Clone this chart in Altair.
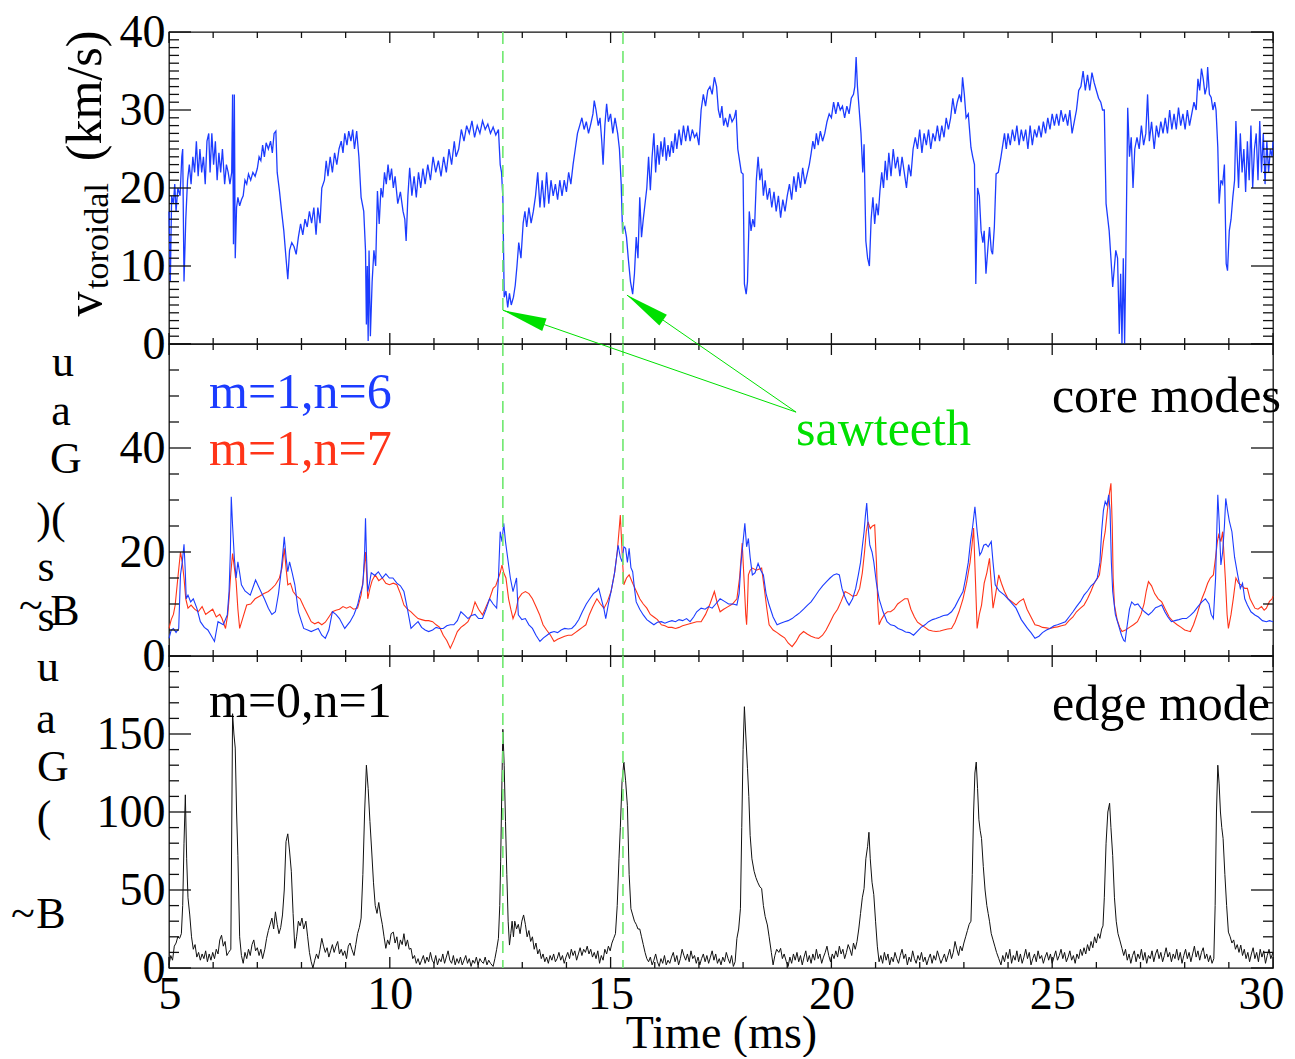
import math
import altair as alt
import pandas as pd

# ---------------- data ----------------
# top panel: toroidal velocity (km/s) vs time (ms)
V_TOROIDAL = [
    (5.00, 17), (5.03, 8), (5.06, 19), (5.10, 18), (5.13, 20.5), (5.16, 17), (5.20, 20), (5.25, 19), (5.29, 24), (5.31, 25),
    (5.34, 8), (5.38, 16), (5.42, 21), (5.46, 23), (5.50, 20.5), (5.54, 24), (5.58, 22), (5.62, 26), (5.66, 21.5), (5.70, 25),
    (5.74, 22), (5.78, 24), (5.82, 20.5), (5.86, 26), (5.90, 27), (5.93, 22), (5.97, 27), (6.01, 23), (6.05, 26), (6.09, 21),
    (6.13, 24.5), (6.17, 22), (6.21, 25), (6.26, 20.5), (6.30, 23), (6.34, 22), (6.38, 20.5), (6.42, 22), (6.44, 32), (6.46, 12.8),
    (6.48, 32), (6.50, 11), (6.53, 17.5), (6.56, 18.8), (6.60, 17.7), (6.64, 18.5), (6.68, 19), (6.72, 21), (6.76, 20.5), (6.80, 21.8),
    (6.85, 21), (6.90, 22), (6.95, 21.5), (7.00, 22.5), (7.04, 24), (7.08, 23.5), (7.12, 25.5), (7.16, 24), (7.20, 25.8), (7.25, 25),
    (7.30, 26), (7.34, 24.5), (7.38, 27), (7.42, 27.3), (7.45, 22), (7.50, 19.7), (7.55, 17), (7.60, 14.5), (7.65, 11), (7.69, 8.3),
    (7.73, 12), (7.78, 13), (7.83, 12.5), (7.88, 11.5), (7.93, 13.7), (7.98, 15.4), (8.03, 14), (8.08, 16), (8.13, 15), (8.18, 17),
    (8.23, 15.5), (8.28, 17.5), (8.33, 14), (8.37, 17.5), (8.42, 15.5), (8.46, 20), (8.52, 21), (8.56, 23.5), (8.60, 21.5), (8.65, 24),
    (8.70, 22), (8.75, 24.5), (8.80, 23), (8.85, 25), (8.90, 26), (8.94, 24.5), (8.98, 27), (9.03, 25.5), (9.07, 27.3), (9.12, 26),
    (9.16, 27.5), (9.20, 25), (9.25, 27.3), (9.30, 24), (9.35, 18.8), (9.41, 17), (9.45, 12), (9.47, 2.5), (9.49, 10), (9.51, 0.4),
    (9.53, 12), (9.56, 1), (9.60, 8), (9.64, 12), (9.68, 10), (9.72, 19.6), (9.76, 15.4), (9.80, 20), (9.84, 18.8), (9.88, 22),
    (9.92, 20.5), (9.96, 23), (10.00, 21), (10.04, 22.5), (10.08, 20), (10.12, 21.5), (10.18, 18), (10.24, 19.5), (10.30, 17), (10.34, 16),
    (10.37, 13.2), (10.41, 19), (10.45, 22.6), (10.50, 19), (10.55, 21.5), (10.60, 18.8), (10.65, 22), (10.70, 20), (10.75, 22.5), (10.80, 20.5),
    (10.86, 23), (10.92, 21), (10.98, 24), (11.04, 22), (11.10, 23.5), (11.16, 21.5), (11.22, 24), (11.28, 22), (11.34, 25), (11.40, 23),
    (11.46, 26), (11.50, 24), (11.56, 25), (11.62, 27.5), (11.68, 26), (11.74, 28), (11.80, 27), (11.86, 28.6), (11.92, 26.5), (11.98, 28),
    (12.04, 27), (12.10, 28.6), (12.16, 27.5), (12.22, 28.2), (12.28, 27), (12.34, 27.8), (12.40, 26.8), (12.46, 27.5), (12.50, 23), (12.53, 22),
    (12.56, 18.8), (12.59, 6), (12.63, 6.8), (12.67, 4.7), (12.71, 6.5), (12.75, 5), (12.80, 6), (12.84, 7.5), (12.88, 10), (12.92, 13),
    (12.97, 11), (13.02, 15.5), (13.06, 17), (13.10, 15), (13.15, 17.5), (13.20, 15.5), (13.25, 17), (13.30, 19), (13.35, 22), (13.40, 17.5),
    (13.45, 21), (13.50, 17.5), (13.55, 22), (13.60, 18), (13.65, 21), (13.70, 19), (13.75, 20.5), (13.80, 18.5), (13.85, 21), (13.90, 19),
    (13.95, 21), (14.00, 19.5), (14.05, 22), (14.10, 20.5), (14.15, 23), (14.20, 25), (14.25, 27), (14.30, 28), (14.35, 29), (14.40, 27.5),
    (14.45, 28.5), (14.50, 27), (14.55, 28.2), (14.60, 29.5), (14.63, 31.2), (14.67, 30), (14.72, 28), (14.76, 29), (14.80, 26), (14.83, 23),
    (14.87, 28), (14.91, 30.8), (14.95, 28.5), (15.00, 29.5), (15.05, 27), (15.10, 29), (15.16, 27), (15.20, 25), (15.24, 20.5), (15.27, 14.5),
    (15.32, 15), (15.36, 13.7), (15.40, 11), (15.45, 8), (15.50, 6.4), (15.54, 9), (15.58, 13.7), (15.62, 11), (15.66, 18.8), (15.70, 13.7),
    (15.74, 16), (15.78, 18), (15.82, 20), (15.86, 24), (15.90, 19.7), (15.94, 24), (15.98, 27), (16.02, 22), (16.06, 25.5), (16.10, 23),
    (16.14, 26), (16.18, 24), (16.22, 26.5), (16.26, 23.5), (16.30, 25.5), (16.34, 24), (16.38, 26), (16.42, 24.5), (16.46, 27), (16.50, 25),
    (16.55, 27.5), (16.60, 25.5), (16.65, 28), (16.70, 26), (16.75, 28), (16.80, 26), (16.85, 27.5), (16.90, 26.5), (16.95, 27), (17.00, 25.5),
    (17.05, 30), (17.10, 32), (17.15, 30.5), (17.20, 32.5), (17.25, 33), (17.30, 32), (17.35, 34.2), (17.40, 33), (17.44, 30), (17.48, 29),
    (17.52, 30.5), (17.56, 28), (17.60, 29), (17.65, 27.8), (17.70, 29.5), (17.75, 28.5), (17.80, 29), (17.84, 30), (17.88, 25), (17.92, 23.5),
    (17.96, 22), (18.00, 21.8), (18.03, 7.7), (18.07, 6.4), (18.10, 8), (18.14, 17), (18.18, 14.5), (18.22, 16), (18.26, 15), (18.30, 21),
    (18.34, 24), (18.38, 21), (18.42, 22.5), (18.46, 19), (18.50, 21), (18.55, 18.5), (18.60, 20), (18.65, 17.5), (18.70, 19.5), (18.75, 17),
    (18.80, 19), (18.85, 16.2), (18.90, 18.5), (18.95, 17), (19.00, 19), (19.05, 20.5), (19.10, 18.5), (19.15, 21.5), (19.20, 19.5), (19.25, 22),
    (19.30, 20), (19.35, 22.6), (19.40, 20.5), (19.46, 22), (19.50, 23), (19.54, 24.4), (19.58, 26), (19.62, 25), (19.66, 27), (19.70, 25.5),
    (19.75, 27.3), (19.80, 26), (19.85, 27), (19.90, 28.5), (19.95, 29.5), (20.00, 29), (20.05, 31), (20.10, 29.5), (20.15, 31), (20.20, 30),
    (20.25, 30.5), (20.30, 29), (20.35, 30.5), (20.40, 29.5), (20.45, 31.5), (20.50, 32), (20.53, 33), (20.56, 36.8), (20.59, 33), (20.63, 30),
    (20.67, 27), (20.71, 22), (20.74, 25.6), (20.78, 13.2), (20.82, 11), (20.86, 10), (20.90, 16), (20.94, 18.8), (20.98, 15.4), (21.02, 18),
    (21.06, 16.5), (21.10, 19.7), (21.14, 22), (21.18, 20), (21.22, 23.5), (21.26, 21), (21.30, 24.5), (21.35, 21.5), (21.40, 25), (21.45, 22.5),
    (21.50, 24), (21.55, 21.5), (21.60, 24), (21.65, 22), (21.70, 20), (21.75, 23), (21.80, 21.5), (21.85, 25), (21.90, 26.5), (21.95, 25),
    (22.00, 27.5), (22.05, 24.5), (22.10, 27), (22.15, 25.5), (22.20, 27.5), (22.25, 25), (22.30, 27), (22.35, 26), (22.40, 28), (22.45, 26),
    (22.50, 28), (22.55, 26.5), (22.60, 29), (22.65, 27.5), (22.70, 29), (22.75, 31.5), (22.80, 29.5), (22.85, 31), (22.90, 32), (22.94, 31),
    (22.97, 34.2), (23.01, 32), (23.05, 29), (23.10, 29.5), (23.16, 25.2), (23.20, 24), (23.24, 23), (23.27, 7.7), (23.31, 20), (23.35, 19),
    (23.39, 14.5), (23.43, 13), (23.46, 14.5), (23.50, 9), (23.54, 12), (23.58, 15), (23.62, 12), (23.65, 11.5), (23.69, 15), (23.73, 21.8),
    (23.78, 22), (23.84, 24), (23.88, 25.5), (23.92, 27), (23.96, 25), (24.00, 27), (24.05, 25.5), (24.10, 27.5), (24.15, 26), (24.20, 28),
    (24.25, 25.5), (24.30, 27.5), (24.35, 26), (24.40, 27.5), (24.45, 25), (24.50, 28), (24.55, 25.5), (24.60, 27.5), (24.65, 26.5), (24.70, 28),
    (24.75, 26.5), (24.80, 28.5), (24.85, 27), (24.90, 29), (24.95, 27.5), (25.00, 29.5), (25.05, 28), (25.10, 29.5), (25.15, 28), (25.20, 30),
    (25.25, 28.5), (25.30, 29.5), (25.35, 28), (25.40, 30), (25.45, 27), (25.50, 28.5), (25.55, 30), (25.60, 32.5), (25.65, 33), (25.70, 35),
    (25.75, 32.5), (25.80, 34.5), (25.85, 32.5), (25.90, 34.8), (25.95, 33.5), (26.00, 32.5), (26.05, 31.5), (26.10, 31), (26.14, 30), (26.18, 30),
    (26.22, 18), (26.26, 16), (26.29, 14.5), (26.33, 11), (26.37, 7.3), (26.41, 10), (26.44, 12), (26.48, 11), (26.52, 1.3), (26.55, 9),
    (26.58, 0), (26.61, 11), (26.64, 0), (26.67, 12), (26.71, 30.3), (26.75, 24), (26.79, 26.5), (26.83, 20), (26.87, 25), (26.92, 26.5),
    (26.97, 25), (27.02, 28), (27.07, 25.5), (27.12, 27), (27.16, 32), (27.20, 26), (27.25, 28.5), (27.31, 25), (27.36, 28), (27.41, 26.5),
    (27.46, 28.5), (27.51, 27), (27.56, 29), (27.61, 27), (27.66, 30), (27.71, 27.5), (27.76, 29.5), (27.81, 27.5), (27.86, 30.3), (27.91, 28),
    (27.96, 29.5), (28.01, 27.5), (28.06, 30), (28.11, 28), (28.16, 29.5), (28.21, 31), (28.26, 30), (28.30, 34), (28.34, 32.5), (28.38, 35.3),
    (28.42, 34), (28.46, 32), (28.50, 33), (28.52, 35.5), (28.56, 32), (28.60, 31.6), (28.64, 30), (28.68, 31), (28.71, 30), (28.75, 25.2),
    (28.78, 18), (28.82, 21), (28.86, 20.5), (28.90, 23), (28.94, 10.3), (28.97, 9.4), (29.01, 14.5), (29.05, 16), (29.09, 18.8), (29.13, 21),
    (29.16, 28.6), (29.19, 24), (29.22, 20), (29.26, 27), (29.30, 22), (29.34, 25), (29.38, 19.5), (29.42, 26), (29.46, 21), (29.50, 28),
    (29.54, 20), (29.58, 25), (29.62, 27), (29.66, 21), (29.70, 28.6), (29.74, 22), (29.78, 27), (29.82, 20.5), (29.86, 26), (29.90, 22),
    (29.94, 25), (29.98, 24), (30.00, 26),
]

# middle panel: core mode m=1,n=6 (Gauss)
CORE_N6 = [
    (5.00, 3.4), (5.05, 5), (5.10, 5.3), (5.16, 4.5), (5.22, 5.3), (5.26, 15.6), (5.30, 18), (5.34, 21.5), (5.37, 16), (5.39, 11),
    (5.43, 11.7), (5.49, 10.4), (5.55, 11), (5.63, 9.2), (5.71, 6.6), (5.80, 5.5), (5.88, 5), (5.95, 4), (6.03, 2.8), (6.11, 6.6),
    (6.23, 6), (6.32, 7.9), (6.36, 12.4), (6.39, 20), (6.41, 30.6), (6.44, 25), (6.48, 18.8), (6.52, 15), (6.56, 18.1), (6.60, 16),
    (6.64, 13.7), (6.72, 12.5), (6.84, 11.7), (6.96, 14.6), (7.08, 12.4), (7.16, 11), (7.25, 9.2), (7.33, 8), (7.41, 8.5), (7.48, 12),
    (7.53, 15.6), (7.58, 20), (7.61, 22.9), (7.65, 19), (7.69, 16.2), (7.73, 18.1), (7.79, 16), (7.85, 13.7), (7.93, 8.5), (8.05, 5.3),
    (8.14, 5), (8.22, 4.7), (8.30, 5), (8.38, 5.3), (8.46, 4), (8.54, 3.4), (8.62, 5), (8.70, 8.5), (8.78, 8), (8.86, 7.2),
    (8.98, 5.3), (9.10, 6.6), (9.19, 8), (9.27, 9.8), (9.33, 12), (9.39, 13.7), (9.43, 20), (9.45, 26.5), (9.47, 20), (9.50, 12.4),
    (9.54, 14), (9.58, 16), (9.66, 15.5), (9.74, 16.2), (9.83, 15), (9.91, 15.8), (9.99, 15), (10.07, 15), (10.16, 14), (10.24, 13.5),
    (10.32, 12.4), (10.40, 9), (10.48, 5.3), (10.56, 6), (10.64, 6.6), (10.72, 5.5), (10.80, 5), (10.88, 4.7), (10.97, 5), (11.05, 5.5),
    (11.13, 5.3), (11.21, 5.3), (11.29, 5.8), (11.37, 6), (11.45, 6), (11.53, 6.8), (11.61, 8.5), (11.70, 7.8), (11.77, 7.2), (11.85, 7.8),
    (11.93, 8), (12.01, 7.2), (12.10, 7.2), (12.18, 9), (12.26, 11), (12.34, 10), (12.42, 9.2), (12.46, 15), (12.50, 23.9), (12.54, 22),
    (12.58, 25.5), (12.62, 22), (12.67, 18.8), (12.73, 15), (12.79, 12.4), (12.84, 14), (12.87, 15), (12.91, 7.9), (12.99, 7), (13.07, 7.2),
    (13.15, 6), (13.23, 5.3), (13.31, 4), (13.40, 2.8), (13.48, 3.5), (13.56, 4), (13.64, 4.5), (13.72, 4.7), (13.80, 4.5), (13.88, 5),
    (13.96, 5.3), (14.04, 5.2), (14.12, 5.3), (14.20, 6), (14.28, 7), (14.36, 8.5), (14.45, 10), (14.53, 11), (14.61, 12), (14.69, 12.5),
    (14.73, 13), (14.79, 11), (14.85, 9), (14.89, 7.2), (14.95, 10), (15.01, 12.4), (15.09, 16), (15.17, 21.3), (15.22, 19), (15.26, 18.1),
    (15.30, 21), (15.34, 20.7), (15.38, 18), (15.42, 20.7), (15.46, 17), (15.50, 16.2), (15.54, 13), (15.58, 10.4), (15.66, 9), (15.74, 7.9),
    (15.82, 7), (15.90, 6.5), (15.98, 6), (16.06, 6.5), (16.15, 6.6), (16.23, 6.3), (16.31, 6.6), (16.39, 6.8), (16.47, 6.6), (16.55, 7),
    (16.63, 6.8), (16.72, 7.2), (16.80, 6.6), (16.88, 7.5), (16.95, 8.5), (17.05, 9.2), (17.14, 9), (17.22, 9.5), (17.30, 9.2), (17.38, 10),
    (17.48, 11), (17.58, 10.5), (17.67, 10), (17.77, 10), (17.86, 9.8), (17.91, 12), (17.95, 17.5), (18.00, 22), (18.04, 25.5), (18.08, 21),
    (18.12, 22.6), (18.16, 19), (18.21, 15.6), (18.27, 16), (18.34, 17.8), (18.40, 16.5), (18.46, 15.6), (18.52, 12), (18.59, 9.8), (18.68, 7.5),
    (18.77, 6), (18.85, 6.3), (18.94, 6.6), (19.02, 6.8), (19.11, 7.2), (19.20, 7.8), (19.28, 8.3), (19.37, 9), (19.46, 9.8), (19.54, 10.4),
    (19.63, 11.5), (19.71, 12.5), (19.80, 13.5), (19.89, 14.3), (19.97, 15), (20.05, 15.6), (20.12, 15.8), (20.18, 15.6), (20.24, 13), (20.30, 11.5),
    (20.35, 10.5), (20.40, 9.8), (20.48, 11), (20.55, 13), (20.61, 15.6), (20.66, 18), (20.70, 21), (20.74, 23.9), (20.77, 27), (20.80, 29.4),
    (20.84, 24), (20.87, 21.3), (20.92, 20), (20.96, 18.1), (21.02, 14), (21.08, 11), (21.17, 8.5), (21.26, 6.6), (21.34, 6), (21.43, 5.8),
    (21.51, 5.3), (21.60, 5), (21.68, 4.6), (21.77, 4.5), (21.86, 4), (21.95, 4.8), (22.03, 5.5), (22.12, 6), (22.20, 6.6), (22.29, 7),
    (22.37, 7.2), (22.46, 7.5), (22.54, 7.8), (22.63, 7.9), (22.72, 8.5), (22.80, 9.5), (22.89, 11), (22.98, 12.4), (23.04, 15), (23.10, 18),
    (23.15, 22), (23.20, 25), (23.25, 28.7), (23.30, 24), (23.36, 19.4), (23.40, 20), (23.45, 21.3), (23.50, 21.5), (23.55, 21), (23.62, 22),
    (23.66, 18), (23.71, 13.7), (23.80, 12.5), (23.92, 11.7), (24.05, 10.5), (24.18, 9.2), (24.30, 7), (24.44, 5.3), (24.52, 4.5), (24.61, 3.4),
    (24.70, 3.8), (24.78, 4.5), (24.87, 5), (24.95, 5.3), (25.04, 5.8), (25.12, 6), (25.21, 6.3), (25.30, 6.6), (25.38, 7.5), (25.47, 8.5),
    (25.55, 9.5), (25.64, 10.5), (25.72, 11.7), (25.80, 12.5), (25.88, 13.5), (25.95, 14), (26.02, 15), (26.08, 18), (26.12, 24), (26.16, 28),
    (26.20, 29.7), (26.24, 29), (26.28, 31), (26.31, 28), (26.34, 18), (26.37, 12.4), (26.43, 8), (26.50, 6), (26.57, 4), (26.62, 3),
    (26.65, 2.8), (26.70, 6), (26.75, 9), (26.80, 10.4), (26.87, 9.8), (26.94, 10), (27.01, 9.2), (27.09, 8.5), (27.18, 7.9), (27.26, 8.5),
    (27.34, 9.3), (27.41, 9.5), (27.48, 9.8), (27.55, 8.5), (27.62, 7.5), (27.70, 6.6), (27.78, 6.8), (27.87, 7), (27.95, 7.2), (28.04, 7.2),
    (28.13, 7.8), (28.21, 8.5), (28.30, 9.5), (28.39, 10.4), (28.47, 11), (28.55, 10), (28.60, 8), (28.65, 7.2), (28.70, 15), (28.73, 25),
    (28.75, 31), (28.78, 26), (28.82, 17.5), (28.86, 20), (28.90, 25), (28.93, 30.3), (28.97, 28), (29.01, 26), (29.07, 23.9), (29.13, 19),
    (29.20, 15.6), (29.26, 13), (29.31, 14), (29.36, 11), (29.42, 9.8), (29.50, 8.5), (29.59, 7.9), (29.67, 7.5), (29.76, 6.8), (29.85, 6.6),
    (29.92, 6.8), (30.00, 6.6),
]

# middle panel: core mode m=1,n=7 (Gauss)
CORE_N7 = [
    (5.00, 5.3), (5.05, 7), (5.10, 8), (5.14, 9.8), (5.20, 15), (5.26, 20), (5.30, 18), (5.34, 15), (5.38, 11), (5.43, 9.2),
    (5.50, 9.8), (5.58, 9), (5.66, 8.5), (5.75, 9.5), (5.83, 8), (5.91, 8.5), (5.99, 9), (6.07, 7.5), (6.15, 8), (6.20, 7.2),
    (6.28, 5.3), (6.33, 8), (6.36, 11), (6.40, 16), (6.44, 19.7), (6.48, 17), (6.52, 14.3), (6.56, 9), (6.60, 5.3), (6.66, 7),
    (6.76, 9.8), (6.85, 10), (6.95, 11), (7.05, 11.5), (7.15, 12), (7.25, 12.4), (7.33, 13), (7.41, 13.7), (7.50, 15), (7.56, 17),
    (7.61, 20.7), (7.65, 17), (7.69, 13.7), (7.75, 14), (7.81, 12.4), (7.89, 11.5), (7.97, 11), (8.05, 9.5), (8.14, 8), (8.22, 6.6),
    (8.30, 6.2), (8.38, 6.5), (8.46, 6), (8.54, 6.5), (8.62, 7.5), (8.70, 8.5), (8.78, 8.8), (8.86, 9), (8.94, 9.5), (9.02, 9.2),
    (9.10, 9.5), (9.18, 9), (9.27, 9.2), (9.35, 11.7), (9.40, 15), (9.45, 20), (9.48, 15), (9.50, 11), (9.55, 13), (9.60, 14.5),
    (9.67, 15.6), (9.75, 14.5), (9.83, 15), (9.91, 14), (9.99, 13.7), (10.08, 14), (10.16, 13.7), (10.24, 12), (10.32, 9.8), (10.40, 9),
    (10.48, 8.5), (10.56, 7.8), (10.64, 7.2), (10.72, 7), (10.80, 6.8), (10.88, 6.8), (10.97, 6.6), (11.05, 6), (11.13, 5.5), (11.21, 4),
    (11.29, 3), (11.37, 1.5), (11.45, 3), (11.53, 4.7), (11.61, 5.5), (11.69, 6), (11.77, 6.6), (11.85, 8), (11.93, 10.4), (12.01, 9),
    (12.10, 7.9), (12.18, 9.5), (12.26, 11), (12.34, 13), (12.40, 13.5), (12.46, 15), (12.50, 16), (12.54, 17.5), (12.58, 16), (12.63, 15),
    (12.69, 11), (12.74, 9), (12.79, 7.2), (12.85, 8.5), (12.91, 11), (12.99, 12), (13.07, 12.4), (13.15, 12), (13.23, 11), (13.31, 9.5),
    (13.39, 8), (13.47, 6), (13.55, 5), (13.64, 4), (13.72, 2.8), (13.80, 3.2), (13.88, 3.5), (13.96, 3.8), (14.04, 4), (14.12, 4),
    (14.20, 4.5), (14.28, 5), (14.36, 5.5), (14.44, 6), (14.52, 8), (14.60, 9.5), (14.69, 11), (14.77, 10), (14.85, 9.2), (14.93, 10.5),
    (15.01, 12.4), (15.09, 16), (15.15, 20), (15.19, 24), (15.22, 27.1), (15.26, 20), (15.30, 13.7), (15.36, 15), (15.42, 15.6), (15.50, 14),
    (15.58, 12.5), (15.66, 11), (15.74, 10), (15.82, 9.2), (15.90, 8), (15.98, 7.5), (16.06, 7), (16.15, 6), (16.23, 5.8), (16.31, 5.5),
    (16.39, 5.5), (16.47, 5.3), (16.55, 5.5), (16.63, 5.8), (16.71, 6), (16.79, 6.2), (16.87, 6.4), (16.95, 6.6), (17.05, 6.6), (17.15, 8),
    (17.25, 10), (17.35, 12.4), (17.42, 10), (17.48, 8.5), (17.56, 9), (17.66, 9.5), (17.76, 10), (17.86, 11), (17.92, 15), (17.98, 21.7),
    (18.02, 15), (18.06, 8), (18.08, 6), (18.10, 10), (18.12, 15.6), (18.16, 16.5), (18.21, 16.9), (18.30, 16.5), (18.42, 16.9), (18.48, 13),
    (18.54, 9), (18.59, 6), (18.68, 5), (18.77, 4.5), (18.85, 4), (18.94, 3.5), (19.02, 2.5), (19.11, 1.8), (19.20, 2.8), (19.28, 4),
    (19.37, 4.7), (19.46, 4.2), (19.54, 3.8), (19.63, 3.5), (19.71, 3.4), (19.80, 4), (19.88, 5), (19.97, 6.5), (20.05, 7.9), (20.14, 9),
    (20.22, 10.5), (20.31, 12.4), (20.40, 12), (20.48, 11.5), (20.57, 11.7), (20.64, 13), (20.70, 16), (20.75, 20), (20.79, 24), (20.83, 25.8),
    (20.88, 24.5), (20.93, 25), (20.98, 25.2), (21.02, 18), (21.05, 10), (21.08, 6), (21.13, 7), (21.20, 8), (21.27, 8.5), (21.34, 8.5),
    (21.42, 9), (21.50, 10), (21.58, 10.5), (21.66, 11), (21.73, 11), (21.80, 9), (21.88, 7.5), (21.95, 6.5), (22.03, 6), (22.12, 5.5),
    (22.20, 5), (22.29, 4.8), (22.37, 4.7), (22.46, 4.8), (22.54, 5), (22.63, 5.2), (22.72, 5.3), (22.80, 6.5), (22.89, 8.5), (22.98, 11),
    (23.06, 14), (23.14, 18), (23.18, 21), (23.22, 24.6), (23.26, 15), (23.30, 5.3), (23.35, 8), (23.40, 9.8), (23.46, 14), (23.52, 16),
    (23.58, 18.8), (23.62, 14), (23.66, 9.2), (23.72, 12), (23.79, 15.6), (23.85, 14), (23.92, 12.4), (24.00, 11), (24.08, 10.5), (24.18, 9.8),
    (24.26, 10.5), (24.35, 11), (24.43, 9), (24.52, 7.5), (24.61, 6), (24.70, 5.8), (24.78, 5.5), (24.87, 5.4), (24.95, 5.3), (25.04, 5.5),
    (25.12, 5.6), (25.21, 5.8), (25.30, 6), (25.38, 6.8), (25.47, 7.5), (25.55, 8.5), (25.64, 9.2), (25.72, 9.8), (25.80, 11), (25.88, 12.5),
    (25.95, 14), (26.03, 15), (26.07, 15.6), (26.12, 19), (26.16, 22), (26.20, 23.9), (26.25, 28), (26.29, 31), (26.33, 33.2), (26.36, 25),
    (26.38, 15), (26.41, 9.8), (26.47, 7), (26.53, 5.5), (26.58, 4.7), (26.66, 5), (26.75, 5.5), (26.84, 6), (26.93, 6.6), (27.01, 8),
    (27.08, 10), (27.13, 12.5), (27.18, 14.3), (27.25, 13.5), (27.32, 12), (27.40, 11), (27.48, 10.4), (27.56, 9), (27.65, 7.5), (27.74, 6.6),
    (27.83, 6), (27.92, 5.5), (28.00, 5), (28.08, 4.8), (28.13, 4.7), (28.20, 6), (28.28, 8), (28.35, 10), (28.39, 11), (28.46, 12.5),
    (28.52, 14), (28.58, 15), (28.65, 15.6), (28.70, 19), (28.74, 22), (28.77, 23.3), (28.82, 22), (28.86, 23.9), (28.92, 15), (28.96, 8),
    (28.99, 5.3), (29.05, 8), (29.10, 11), (29.16, 15), (29.22, 14), (29.30, 13.5), (29.36, 13), (29.42, 13), (29.48, 11), (29.54, 10),
    (29.59, 9.2), (29.66, 9), (29.74, 9.5), (29.80, 8.8), (29.85, 9.2), (29.92, 10.5), (29.98, 11), (30.00, 11.5),
]

# bottom panel: edge mode m=0,n=1 (Gauss)
EDGE_N1 = [
    (5.00, 2), (5.04, 8), (5.08, 5), (5.12, 14), (5.16, 16), (5.20, 20), (5.24, 19), (5.28, 22), (5.31, 40), (5.34, 80),
    (5.37, 111), (5.40, 70), (5.43, 45), (5.47, 34), (5.51, 20), (5.55, 12), (5.59, 15), (5.63, 7), (5.67, 10), (5.71, 5),
    (5.75, 9), (5.79, 6), (5.83, 11), (5.87, 4), (5.91, 9), (5.95, 5), (5.99, 10), (6.03, 6), (6.07, 12), (6.11, 9),
    (6.15, 18), (6.19, 21), (6.23, 14), (6.27, 17), (6.31, 8), (6.35, 10), (6.40, 12), (6.44, 163), (6.47, 150), (6.50, 141),
    (6.53, 100), (6.56, 72), (6.60, 20), (6.64, 8), (6.68, 3), (6.72, 10), (6.76, 6), (6.80, 12), (6.84, 8), (6.88, 15),
    (6.92, 18), (6.96, 11), (7.00, 13), (7.04, 8), (7.08, 12), (7.12, 6), (7.17, 12), (7.21, 19), (7.25, 24), (7.29, 28),
    (7.33, 32), (7.37, 25), (7.41, 36), (7.45, 28), (7.49, 22), (7.53, 26), (7.57, 34), (7.61, 50), (7.65, 81), (7.69, 86),
    (7.73, 75), (7.77, 62), (7.81, 35), (7.85, 12.6), (7.89, 20), (7.93, 30), (7.97, 27), (8.01, 32), (8.05, 25), (8.10, 30),
    (8.14, 20), (8.18, 10), (8.22, 4), (8.26, 0), (8.30, 5), (8.34, 9), (8.38, 6), (8.42, 12), (8.46, 19), (8.50, 14),
    (8.54, 10), (8.58, 13), (8.62, 7), (8.66, 11), (8.70, 15), (8.74, 10), (8.78, 14), (8.82, 17), (8.86, 9), (8.90, 12),
    (8.94, 8), (8.98, 11), (9.02, 6), (9.06, 14), (9.10, 16), (9.14, 12), (9.19, 8), (9.23, 15), (9.27, 22), (9.31, 26),
    (9.35, 32), (9.39, 60), (9.43, 100), (9.47, 130), (9.51, 115), (9.55, 94), (9.59, 75), (9.63, 55), (9.67, 40), (9.71, 35),
    (9.75, 42), (9.79, 34), (9.83, 28), (9.87, 20), (9.91, 12.6), (9.95, 18), (9.99, 15), (10.03, 22), (10.08, 23), (10.12, 16),
    (10.16, 20), (10.20, 12), (10.24, 18), (10.28, 15), (10.32, 22), (10.36, 14), (10.40, 18), (10.44, 12), (10.48, 12.6), (10.52, 6),
    (10.56, 8), (10.60, 3), (10.64, 6), (10.68, 2), (10.72, 5), (10.76, 8), (10.80, 3), (10.84, 7), (10.88, 4), (10.92, 10),
    (10.96, 5), (11.00, 3), (11.04, 8), (11.08, 2), (11.12, 6), (11.16, 4), (11.20, 9), (11.24, 3), (11.28, 7), (11.32, 11),
    (11.36, 5), (11.40, 3), (11.44, 8), (11.48, 2), (11.52, 6), (11.56, 3), (11.60, 7), (11.64, 2), (11.68, 5), (11.72, 8),
    (11.76, 3), (11.80, 6), (11.84, 1), (11.88, 5), (11.92, 3), (11.96, 7), (12.00, 2), (12.04, 6), (12.08, 4), (12.12, 3),
    (12.16, 7), (12.20, 2), (12.24, 5), (12.28, 3), (12.34, 1), (12.38, 6), (12.42, 12), (12.46, 19), (12.49, 40), (12.51, 68),
    (12.54, 120), (12.56, 153), (12.59, 130), (12.62, 94), (12.65, 60), (12.68, 30), (12.71, 14.7), (12.74, 22), (12.77, 30), (12.80, 20),
    (12.83, 30), (12.87, 25), (12.91, 28), (12.95, 22), (12.99, 30), (13.03, 34), (13.07, 28), (13.11, 20), (13.15, 24), (13.19, 17),
    (13.23, 20), (13.27, 12), (13.31, 16), (13.35, 9), (13.39, 12), (13.43, 6), (13.47, 9), (13.51, 4), (13.55, 7), (13.59, 3),
    (13.63, 8), (13.67, 5), (13.71, 9), (13.75, 4), (13.79, 6), (13.83, 10), (13.87, 5), (13.91, 8), (13.95, 3), (13.99, 7),
    (14.03, 10), (14.07, 6), (14.11, 12), (14.15, 8), (14.19, 11), (14.23, 5), (14.27, 9), (14.31, 13), (14.35, 8), (14.39, 12),
    (14.43, 10), (14.47, 14), (14.51, 9), (14.55, 12), (14.59, 7), (14.63, 10), (14.67, 6), (14.71, 11), (14.75, 3), (14.79, 8),
    (14.83, 5), (14.87, 12), (14.91, 9), (14.95, 14), (14.99, 11), (15.03, 16), (15.07, 19), (15.11, 22), (15.15, 40), (15.19, 70),
    (15.22, 90), (15.26, 120), (15.30, 132), (15.34, 120), (15.38, 104), (15.42, 60), (15.46, 38), (15.50, 34), (15.54, 30), (15.58, 28),
    (15.62, 25), (15.66, 25), (15.70, 20), (15.74, 15), (15.78, 10), (15.82, 6), (15.86, 4), (15.90, 7), (15.94, 2), (15.98, 5),
    (16.02, 9), (16.06, 4), (16.10, 1), (16.14, 6), (16.18, 3), (16.22, 8), (16.26, 2), (16.30, 5), (16.34, 3), (16.38, 7),
    (16.42, 10), (16.46, 4), (16.50, 8), (16.54, 2), (16.58, 6), (16.62, 12), (16.66, 8), (16.70, 5), (16.74, 9), (16.78, 4),
    (16.82, 11), (16.86, 6), (16.90, 8), (16.94, 3), (16.98, 7), (17.02, 2), (17.06, 6), (17.10, 9), (17.14, 4), (17.18, 8),
    (17.22, 3), (17.26, 7), (17.30, 11), (17.34, 5), (17.38, 9), (17.42, 3), (17.46, 6), (17.50, 2), (17.54, 7), (17.58, 4),
    (17.62, 10), (17.66, 6), (17.70, 3), (17.74, 8), (17.78, 1), (17.82, 4), (17.86, 19), (17.90, 25), (17.94, 38), (17.97, 90),
    (18.00, 140), (18.03, 167.5), (18.06, 150), (18.10, 128), (18.13, 110), (18.16, 85), (18.20, 70), (18.25, 62), (18.29, 58), (18.33, 55),
    (18.38, 52), (18.42, 51), (18.46, 40), (18.50, 33), (18.55, 27.6), (18.59, 20), (18.64, 10), (18.68, 2), (18.72, 8), (18.76, 12),
    (18.81, 10), (18.85, 12.6), (18.89, 6), (18.93, 9), (18.98, 4), (19.02, 1), (19.06, 7), (19.10, 3), (19.14, 9), (19.18, 5),
    (19.22, 10), (19.26, 4), (19.30, 8), (19.34, 2), (19.38, 7), (19.42, 11), (19.46, 4), (19.50, 8), (19.54, 3), (19.58, 9),
    (19.62, 5), (19.66, 12), (19.70, 6), (19.74, 9), (19.78, 3), (19.82, 7), (19.86, 10), (19.90, 14), (19.94, 8), (19.98, 4),
    (20.02, 9), (20.06, 6), (20.10, 11), (20.14, 7), (20.18, 14), (20.22, 9), (20.26, 12), (20.30, 6), (20.34, 10), (20.38, 15),
    (20.42, 12), (20.46, 8), (20.50, 16), (20.54, 12), (20.58, 17), (20.62, 25), (20.66, 35), (20.70, 45), (20.74, 51), (20.78, 70),
    (20.82, 78), (20.85, 87), (20.88, 70), (20.92, 55), (20.96, 47), (21.00, 30), (21.04, 14), (21.08, 4), (21.12, 8), (21.16, 3),
    (21.20, 10), (21.24, 5), (21.28, 9), (21.32, 2), (21.36, 7), (21.40, 4), (21.44, 10), (21.48, 6), (21.52, 3), (21.56, 8),
    (21.60, 12), (21.64, 6), (21.68, 9), (21.72, 2), (21.76, 7), (21.80, 4), (21.84, 11), (21.88, 6), (21.92, 3), (21.96, 8),
    (22.00, 5), (22.04, 10), (22.08, 4), (22.12, 7), (22.16, 2), (22.20, 6), (22.24, 9), (22.28, 3), (22.32, 8), (22.36, 5),
    (22.40, 11), (22.44, 7), (22.48, 3), (22.52, 6), (22.56, 9), (22.60, 4), (22.64, 8), (22.68, 12), (22.72, 6), (22.76, 10),
    (22.80, 17), (22.84, 12), (22.88, 8), (22.92, 14), (22.96, 11), (23.00, 16), (23.04, 20), (23.08, 24), (23.12, 28), (23.16, 30),
    (23.19, 60), (23.22, 100), (23.25, 125), (23.28, 132), (23.31, 115), (23.34, 95), (23.37, 88), (23.40, 83), (23.44, 65), (23.48, 50),
    (23.52, 40), (23.55, 35), (23.58, 30), (23.62, 22), (23.66, 18), (23.70, 14), (23.74, 10), (23.79, 6), (23.84, 2), (23.88, 8),
    (23.92, 4), (23.96, 10), (24.00, 6), (24.04, 12), (24.08, 3), (24.12, 8), (24.16, 5), (24.20, 11), (24.24, 4), (24.28, 9),
    (24.32, 3), (24.36, 7), (24.40, 12), (24.44, 6), (24.48, 10), (24.52, 2), (24.56, 6), (24.60, 9), (24.64, 4), (24.68, 11),
    (24.72, 6), (24.76, 8), (24.80, 3), (24.84, 7), (24.88, 10), (24.92, 5), (24.96, 9), (25.00, 3), (25.04, 7), (25.08, 11),
    (25.12, 5), (25.16, 8), (25.20, 12), (25.24, 6), (25.28, 10), (25.32, 4), (25.36, 7), (25.40, 11), (25.44, 5), (25.48, 8),
    (25.52, 3), (25.56, 9), (25.60, 6), (25.64, 12), (25.68, 8), (25.72, 13), (25.76, 9), (25.80, 15), (25.84, 11), (25.88, 17),
    (25.92, 13), (25.96, 20), (26.00, 16), (26.04, 22), (26.08, 19), (26.12, 25), (26.15, 27), (26.18, 45), (26.22, 80), (26.26, 100),
    (26.30, 105.6), (26.33, 90), (26.37, 72), (26.41, 45), (26.45, 30), (26.49, 22), (26.53, 18), (26.58, 12.6), (26.62, 8), (26.66, 12),
    (26.70, 5), (26.74, 9), (26.78, 3), (26.82, 8), (26.86, 11), (26.90, 4), (26.94, 9), (26.98, 6), (27.02, 12), (27.06, 5),
    (27.10, 10), (27.14, 3), (27.18, 8), (27.22, 6), (27.26, 11), (27.30, 4), (27.34, 9), (27.38, 12), (27.42, 6), (27.46, 10),
    (27.50, 4), (27.54, 8), (27.58, 13), (27.62, 7), (27.66, 10), (27.70, 4), (27.74, 9), (27.78, 6), (27.82, 12), (27.86, 5),
    (27.90, 10), (27.94, 3), (27.98, 8), (28.02, 12), (28.06, 6), (28.10, 10), (28.14, 4), (28.18, 9), (28.22, 14), (28.26, 7),
    (28.30, 11), (28.34, 5), (28.38, 10), (28.42, 13), (28.46, 6), (28.50, 9), (28.54, 4), (28.58, 8), (28.62, 3), (28.66, 6),
    (28.69, 40), (28.72, 100), (28.75, 130), (28.78, 118), (28.81, 100), (28.84, 90), (28.87, 83), (28.91, 60), (28.95, 40), (28.99, 23),
    (29.03, 20), (29.07, 16), (29.11, 18), (29.15, 12), (29.19, 15), (29.23, 10), (29.27, 14.7), (29.31, 8), (29.35, 12), (29.39, 6),
    (29.43, 10), (29.47, 4), (29.51, 9), (29.55, 13), (29.59, 6), (29.63, 10), (29.67, 4), (29.71, 12), (29.75, 7), (29.79, 11),
    (29.83, 3), (29.87, 8), (29.91, 12), (29.95, 6), (30.00, 10),
]

# sawtooth crash times (green dashed lines), ms
SAWTOOTH_T = [12.56, 15.28]
# "sawteeth" arrows, in middle-panel data units (time, Gauss): tail and the two tips
SAW_TAIL = (19.20, 46.9)
SAW_TIPS = [(12.56, 66.5), (15.37, 69.4)]

# axis ticks / labels
X_LABELS = [5, 10, 15, 20, 25, 30]
TOP_LABELS = [0, 10, 20, 30, 40]
MID_LABELS = [0, 20, 40]
BOT_LABELS = [0, 50, 100, 150]

# ---------------- styling ----------------
FONT = "Liberation Serif"
BLUE = "#1c3cff"
RED = "#ff3418"
GREEN = "#00e000"
DASH_GREEN = "#6fe86f"
W, H = 1104, 312
X_DOMAIN = [5, 30]
XS = alt.Scale(domain=X_DOMAIN, nice=False, zero=False)
ONE = pd.DataFrame({"_": [0]})


def x_enc(axis):
    return alt.X("t:Q", scale=XS, axis=axis)


def y_enc(field, domain, labels):
    return alt.Y(
        f"{field}:Q",
        scale=alt.Scale(domain=domain, nice=False, zero=False),
        axis=alt.Axis(values=labels, format="d", labelFont=FONT, labelFontSize=46,
                      labelColor="black", ticks=False, tickSize=0, domain=False,
                      grid=False, title=None, labelPadding=4, labelOverlap=False),
    )


def text(label, x, y, size=50, color="black", align="left", baseline="alphabetic", angle=0):
    return alt.Chart(ONE).mark_text(
        text=label, font=FONT, fontSize=size, color=color, align=align,
        baseline=baseline, angle=angle,
    ).encode(x=alt.value(x), y=alt.value(y))


def frame_ticks(xa, yf, yenc, ymajor, yminor):
    layers = []
    xmaj = pd.DataFrame({"t": X_LABELS})
    xmin = pd.DataFrame({"t": [v for v in range(X_DOMAIN[0], X_DOMAIN[1] + 1) if v % 5]})
    for df, L in [(xmaj, 11), (xmin, 6)]:
        base = alt.Chart(df).mark_rule(color="#111", strokeWidth=1.3)
        layers.append(base.encode(x=x_enc(xa), y=alt.value(0), y2=alt.value(L)))
        layers.append(base.encode(x=x_enc(xa), y=alt.value(H), y2=alt.value(H - L)))
    for vals, L in [(ymajor, 22), (yminor, 10)]:
        df = pd.DataFrame({yf: vals})
        base = alt.Chart(df).mark_rule(color="#111", strokeWidth=1.3)
        layers.append(base.encode(y=yenc, x=alt.value(0), x2=alt.value(L)))
        layers.append(base.encode(y=yenc, x=alt.value(W), x2=alt.value(W - L)))
    return layers


def dashed(xa):
    return alt.Chart(pd.DataFrame({"t": SAWTOOTH_T})).mark_rule(
        color=DASH_GREEN, strokeDash=[12, 7], strokeWidth=1.6
    ).encode(x=x_enc(xa))


# ---------------- top panel ----------------
xa_none = None
y_top = y_enc("v", [0, 40], TOP_LABELS)
top_df = pd.DataFrame(V_TOROIDAL, columns=["t", "v"])
top_layers = [
    alt.Chart(top_df).mark_line(color=BLUE, strokeWidth=1.3).encode(x=x_enc(xa_none), y=y_top),
    dashed(xa_none),
]
top_layers += frame_ticks(xa_none, "v", y_top, TOP_LABELS,
                          [v for v in range(0, 41) if v % 10])
top_layers += [
    text("(km/s)", -68, 64, size=50, align="center", angle=270),
    text("toroidal", -61, 204, size=34, align="center", angle=270),
    text("v", -68, 272, size=50, align="center", angle=270),
]
top = alt.layer(*top_layers).properties(width=W, height=H)

# ---------------- middle panel ----------------
y_mid = y_enc("b", [0, 60], MID_LABELS)
n6_df = pd.DataFrame(CORE_N6, columns=["t", "b"])
n7_df = pd.DataFrame(CORE_N7, columns=["t", "b"])
mid_layers = [
    alt.Chart(n7_df).mark_line(color=RED, strokeWidth=1.1).encode(x=x_enc(xa_none), y=y_mid),
    alt.Chart(n6_df).mark_line(color=BLUE, strokeWidth=1.1).encode(x=x_enc(xa_none), y=y_mid),
    dashed(xa_none),
]
mid_layers += frame_ticks(xa_none, "b", y_mid, [0, 20, 40, 60],
                          [v for v in range(0, 61, 5) if v % 20])

# sawteeth arrows
PX_T = W / (X_DOMAIN[1] - X_DOMAIN[0])
PX_B = H / 60.0
HEAD = 44
for tip_t, tip_b in SAW_TIPS:
    dx = (tip_t - SAW_TAIL[0]) * PX_T
    dy = -(tip_b - SAW_TAIL[1]) * PX_B
    n = math.hypot(dx, dy)
    ux, uy = dx / n, dy / n
    ang = math.degrees(math.atan2(dx, -dy)) % 360
    hc_t = tip_t - ux * HEAD / 2 / PX_T
    hc_b = tip_b + uy * HEAD / 2 / PX_B
    rule_df = pd.DataFrame({"t": [SAW_TAIL[0]], "b": [SAW_TAIL[1]], "t2": [tip_t], "b2": [tip_b]})
    mid_layers.append(
        alt.Chart(rule_df).mark_rule(color=GREEN, strokeWidth=1).encode(
            x=x_enc(xa_none), y=y_mid, x2="t2:Q", y2="b2:Q")
    )
    head_df = pd.DataFrame({"t": [hc_t], "b": [hc_b]})
    mid_layers.append(
        alt.Chart(head_df).mark_point(
            shape="M0,-1L0.3,1L-0.3,1Z", filled=True, color=GREEN, opacity=1,
            size=HEAD * HEAD, angle=ang, strokeWidth=0,
        ).encode(x=x_enc(xa_none), y=y_mid)
    )

mid_layers += [
    text("m=1,n=6", 40, 64, color=BLUE),
    text("m=1,n=7", 40, 121, color=RED),
    text("core modes", 1112, 68, align="right"),
    text("sawteeth", 627, 101, color=GREEN),
]
# vertical (character-stacked) axis title as it appears in the figure
for ch, x, y in [("u", -106, 19), ("a", -108, 68), ("G", -103, 116), (")(", -118, 176),
                 ("s", -123, 224), ("~", -138, 263), ("s", -123, 274), ("B", -104, 268)]:
    mid_layers.append(text(ch, x, y, size=44, align="center", baseline="middle"))
mid = alt.layer(*mid_layers).properties(width=W, height=H)

# ---------------- bottom panel ----------------
xa_bot = alt.Axis(values=X_LABELS, format="d", labelFont=FONT, labelFontSize=46,
                  labelColor="black", ticks=False, tickSize=0, domain=False, grid=False,
                  labelPadding=4, labelFlush=True, labelFlushOffset=11, labelOverlap=False,
                  title="Time (ms)", titleFont=FONT, titleFontSize=46,
                  titleFontWeight="normal", titleColor="black", titlePadding=-6)
y_bot = y_enc("e", [0, 200], BOT_LABELS)
edge_df = pd.DataFrame(EDGE_N1, columns=["t", "e"])
bot_layers = [
    alt.Chart(edge_df).mark_line(color="#111", strokeWidth=1).encode(x=x_enc(xa_bot), y=y_bot),
    dashed(xa_bot),
]
bot_layers += frame_ticks(xa_bot, "e", y_bot, [0, 50, 100, 150, 200],
                          [v for v in range(0, 201, 10) if v % 50])
bot_layers += [
    text("m=0,n=1", 40, 61),
    text("edge mode", 1101, 64, align="right"),
]
for ch, x, y in [("u", -121, 12), ("a", -123, 64), ("G", -116, 112), ("(", -125, 162),
                 ("~", -146, 259), ("B", -118, 259)]:
    bot_layers.append(text(ch, x, y, size=44, align="center", baseline="middle"))
bot = alt.layer(*bot_layers).properties(width=W, height=H)

chart = alt.vconcat(
    top, mid, bot, spacing=0, bounds="flush",
    padding={"left": 2, "top": 0, "right": 0, "bottom": 0},
    background="white",
).configure_view(stroke="#111", strokeWidth=1.3)

chart.save("out.html", embed_options={"renderer": "svg", "actions": False})
